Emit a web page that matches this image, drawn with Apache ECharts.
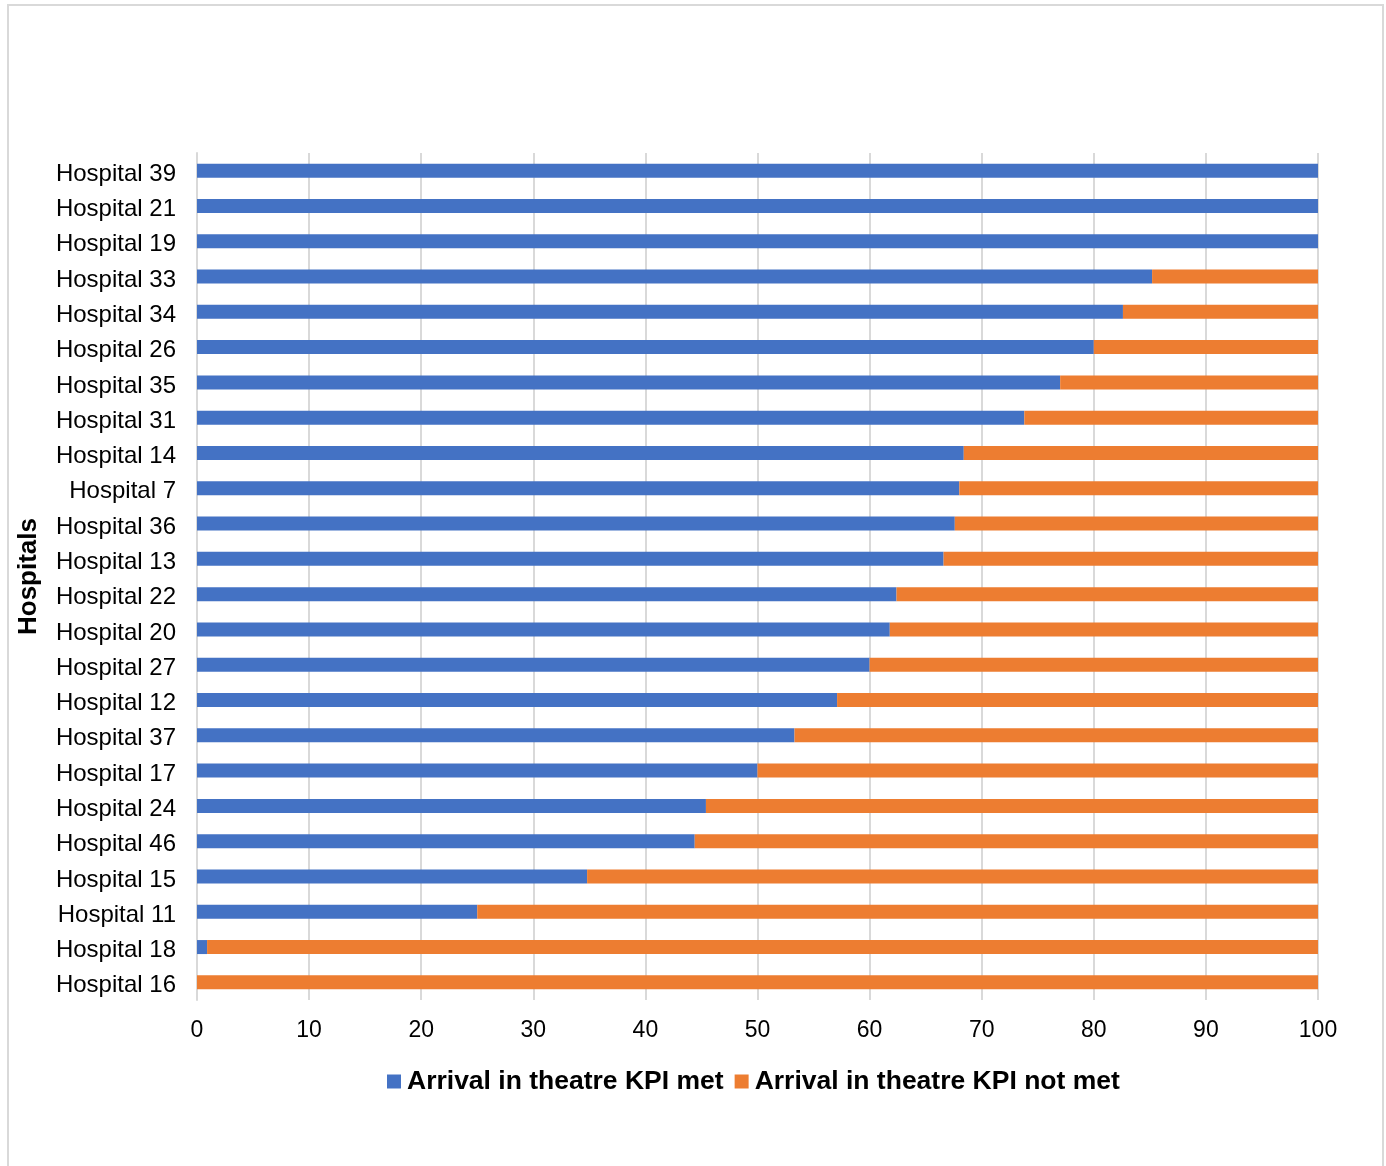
<!DOCTYPE html>
<html>
<head>
<meta charset="utf-8">
<script src="https://cdn.jsdelivr.net/npm/echarts@6/dist/echarts.min.js"></script>
<style>
html,body{margin:0;padding:0;background:#fff;}
#c{width:1386px;height:1166px;}
</style>
</head>
<body>
<div id="c"></div>
<script>
const hospitals = ["Hospital 39","Hospital 21","Hospital 19","Hospital 33","Hospital 34","Hospital 26","Hospital 35","Hospital 31","Hospital 14","Hospital 7","Hospital 36","Hospital 13","Hospital 22","Hospital 20","Hospital 27","Hospital 12","Hospital 37","Hospital 17","Hospital 24","Hospital 46","Hospital 15","Hospital 11","Hospital 18","Hospital 16"];
const kpiMet = [100,100,100,85.2,82.6,80.0,77.0,73.8,68.4,68.0,67.6,66.6,62.4,61.8,60.0,57.1,53.3,50.0,45.4,44.4,34.8,25.0,0.9,0];
const kpiNotMet = kpiMet.map(v => +(100 - v).toFixed(1));
const xTicks = [0,10,20,30,40,50,60,70,80,90,100];

const chart = echarts.init(document.getElementById('c'), null, {renderer:'canvas'});
const font = '"Liberation Sans", Arial, sans-serif';
chart.setOption({
  animation:false,
  backgroundColor:'#fff',
  graphic:[{type:'rect', shape:{x:8,y:5,width:1375,height:1170}, style:{fill:'none',stroke:'#d9d9d9',lineWidth:2}, silent:true}],
  grid:{left:197,right:68,top:153,bottom:166,containLabel:false},
  legend:{
    top:1063, left:382,
    itemWidth:14,itemHeight:14,itemGap:11,
    icon:'rect',
    textStyle:{fontFamily:font,fontSize:26.5,fontWeight:'bold',color:'#000',padding:[0,0,0,1]},
    data:['Arrival in theatre KPI met','Arrival in theatre KPI not met']
  },
  xAxis:{
    type:'value', min:xTicks[0], max:xTicks[xTicks.length-1], interval:10,
    axisLine:{show:false}, axisTick:{show:false},
    splitLine:{show:true,lineStyle:{color:'#d9d9d9',width:2}},
    axisLabel:{fontFamily:font,fontSize:23,color:'#000',margin:19}
  },
  yAxis:{
    type:'category', data:hospitals, inverse:true,
    name:'Hospitals', nameLocation:'middle', nameGap:155, nameRotate:90,
    nameTextStyle:{fontFamily:font,fontSize:26,fontWeight:'bold',color:'#000'},
    axisLine:{show:true,lineStyle:{color:'#d9d9d9',width:2}},
    axisTick:{show:false},
    axisLabel:{fontFamily:font,fontSize:24,color:'#000',margin:21,verticalAlign:'top',lineHeight:7}
  },
  series:[
    {name:'Arrival in theatre KPI met',type:'bar',stack:'s',barWidth:14,data:kpiMet,itemStyle:{color:'#4472C4'}},
    {name:'Arrival in theatre KPI not met',type:'bar',stack:'s',barWidth:14,data:kpiNotMet,itemStyle:{color:'#ED7D31'}}
  ]
});
</script>
</body>
</html>
